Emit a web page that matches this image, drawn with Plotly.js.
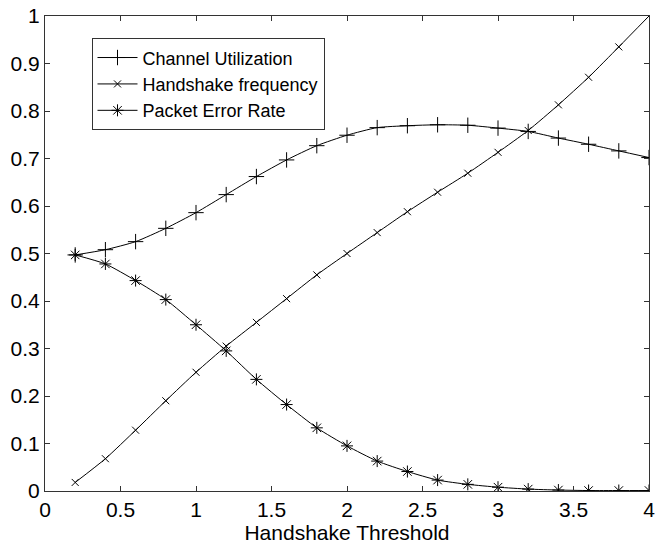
<!DOCTYPE html>
<html>
<head>
<meta charset="utf-8">
<script src="https://cdn.plot.ly/plotly-3.0.1.min.js"></script>
<style>html,body{margin:0;padding:0;background:#fff;}#chart{width:655px;height:547px;}</style>
</head>
<body>
<div id="chart"></div>
<script>
var thresholds = [0.2,0.4,0.6,0.8,1.0,1.2,1.4,1.6,1.8,2.0,2.2,2.4,2.6,2.8,3.0,3.2,3.4,3.6,3.8,4.0];
var channelUtilization = [0.497,0.508,0.525,0.553,0.586,0.624,0.662,0.697,0.727,0.749,0.765,0.769,0.771,0.770,0.764,0.757,0.743,0.730,0.716,0.702];
var handshakeFrequency = [0.018,0.068,0.128,0.190,0.250,0.305,0.355,0.405,0.455,0.500,0.544,0.588,0.629,0.669,0.713,0.759,0.813,0.871,0.935,1.000];
var packetErrorRate = [0.497,0.478,0.443,0.403,0.350,0.295,0.235,0.182,0.133,0.095,0.063,0.041,0.023,0.014,0.008,0.004,0.002,0.001,0.001,0.001];
var seriesNames = ["Channel Utilization","Handshake frequency","Packet Error Rate"];

var font = "Liberation Sans, Arial, sans-serif";
function tr(y, name, sym, size){
  return {x: thresholds, y: y, name: name, type: "scatter", mode: "lines+markers",
    line: {color: "#000", width: 1, shape: "spline", smoothing: 0.6},
    marker: {symbol: sym, size: size, color: "#000", line: {color: "#000", width: 1}}};
}
var data = [
  tr(channelUtilization, seriesNames[0], "cross-thin-open", 11),
  tr(handshakeFrequency, seriesNames[1], "x-thin-open", 7),
  tr(packetErrorRate, seriesNames[2], "asterisk-open", 10)
];
var axisCommon = {showline: true, mirror: "ticks", linecolor: "#333", linewidth: 1,
  ticks: "inside", ticklen: 5, tickcolor: "#333", showgrid: false, zeroline: false,
  ticklabeloverflow: "allow",
  tickfont: {family: font, size: 21, color: "#000"}};
var layout = {
  width: 655, height: 547,
  margin: {l: 45, r: 6, t: 16, b: 56},
  paper_bgcolor: "#fff", plot_bgcolor: "#fff",
  showlegend: true,
  legend: {x: 0.077, y: 0.953, xanchor: "left", yanchor: "top",
    bordercolor: "#333", borderwidth: 1, bgcolor: "#fff",
    font: {family: font, size: 18, color: "#000"}, tracegroupgap: 0, itemwidth: 40},
  xaxis: Object.assign({}, axisCommon, {range: [0, 4], dtick: 0.5, tick0: 0,
    title: {text: "Handshake Threshold", font: {family: font, size: 21, color: "#000"}, standoff: 4}}),
  yaxis: Object.assign({}, axisCommon, {range: [0, 1], dtick: 0.1, tick0: 0})
};
Plotly.newPlot("chart", data, layout, {displayModeBar: false, staticPlot: true});
</script>
</body>
</html>
